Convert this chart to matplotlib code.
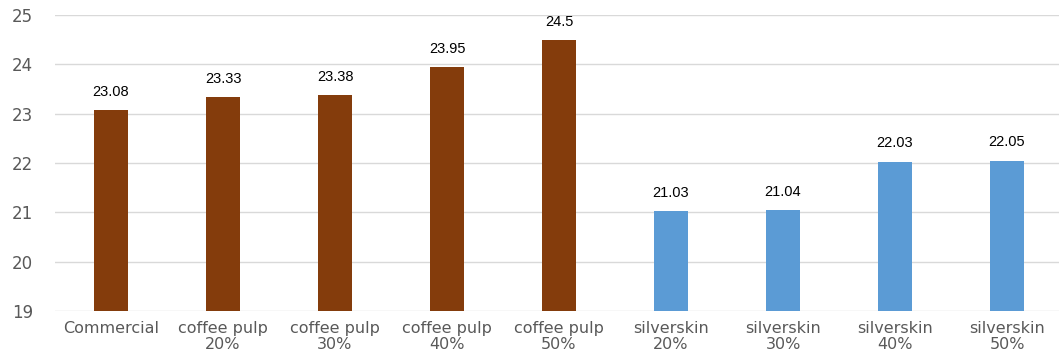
import matplotlib
matplotlib.use("Agg")
import matplotlib.pyplot as plt

categories = ["Commercial", "coffee pulp\n20%", "coffee pulp\n30%", "coffee pulp\n40%", "coffee pulp\n50%",
              "silverskin\n20%", "silverskin\n30%", "silverskin\n40%", "silverskin\n50%"]
values = [23.08, 23.33, 23.38, 23.95, 24.5, 21.03, 21.04, 22.03, 22.05]
labels = ["23.08", "23.33", "23.38", "23.95", "24.5", "21.03", "21.04", "22.03", "22.05"]
colors = ["#843C0C"] * 5 + ["#5B9BD5"] * 4

fig = plt.figure(figsize=(10.59, 3.54), dpi=100)
ax = fig.add_axes([55 / 1059, (354 - 311) / 354, 1008 / 1059, 296 / 354])

x = list(range(len(categories)))
ax.bar(x, values, width=0.3, color=colors, zorder=3, bottom=0)
ax.set_ylim(19, 25)
ax.set_xlim(-0.5, len(categories) - 0.5)
ax.set_yticks(range(19, 26))
ax.yaxis.grid(True, color="#D9D9D9", linewidth=1.0, zorder=0)
ax.set_axisbelow(True)
for s in ax.spines.values():
    s.set_visible(False)
ax.tick_params(axis="both", length=0, colors="#595959", labelsize=11.5)
ax.tick_params(axis="y", pad=16, labelsize=12)
ax.tick_params(axis="x", pad=7)
ax.set_xticks(x)
ax.set_xticklabels(categories, linespacing=1.1)
for t in ax.get_xticklabels() + ax.get_yticklabels():
    t.set_fontfamily("DejaVu Sans")
    t.set_color("#595959")

for xi, v, lab in zip(x, values, labels):
    ax.annotate(lab, (xi, v), xytext=(0, 8), textcoords="offset points",
                ha="center", va="bottom", fontsize=10.5, family="Liberation Sans",
                color="#000000", zorder=4, annotation_clip=False)

fig.savefig("out.png", dpi=100)
